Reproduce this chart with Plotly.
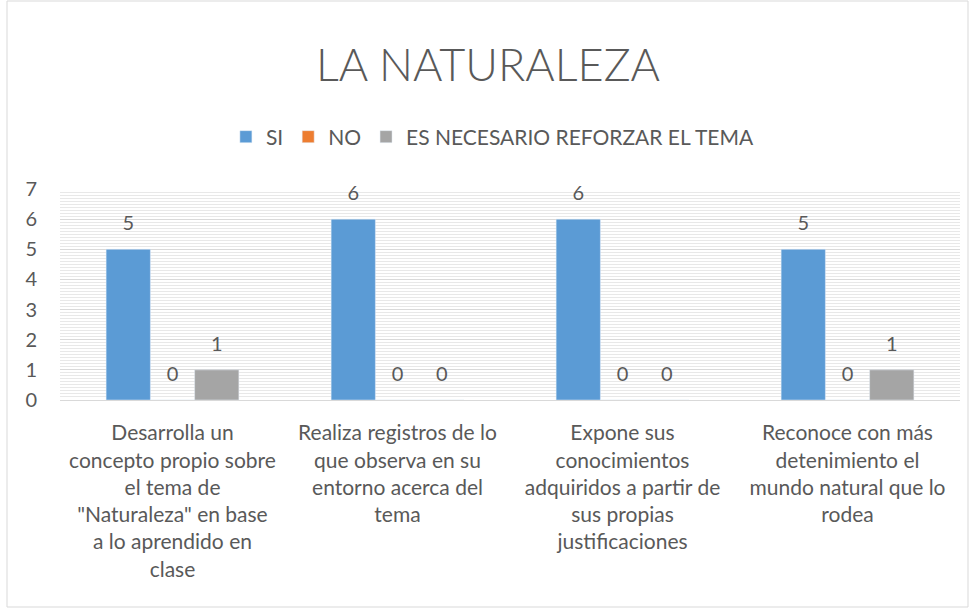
import plotly.graph_objects as go

categories = [
    'Desarrolla un<br>concepto propio sobre<br>el tema de<br>"Naturaleza" en base<br>a lo aprendido en<br>clase',
    'Realiza registros de lo<br>que observa en su<br>entorno acerca del<br>tema',
    'Expone sus<br>conocimientos<br>adquiridos a partir de<br>sus propias<br>justificaciones',
    'Reconoce con más<br>detenimiento el<br>mundo natural que lo<br>rodea',
]
si = [5, 6, 6, 5]
no = [0, 0, 0, 0]
reforzar = [1, 0, 0, 1]

series_names = ["SI", "NO", "ES NECESARIO REFORZAR EL TEMA"]
colors = ["#5B9BD5", "#ED7D31", "#A5A5A5"]
FONT = "Lato, 'Liberation Sans', sans-serif"
TXT = "#595959"
GAP = 0.41

fig = go.Figure()
for i, (name, vals, col) in enumerate(zip(series_names, [si, no, reforzar], colors)):
    fig.add_trace(go.Bar(
        x=categories, y=vals, name=name, marker_color=col,
        offsetgroup=str(i), hoverinfo="skip",
    ))
for i, (name, vals) in enumerate(zip(series_names, [si, no, reforzar])):
    fig.add_trace(go.Scatter(
        x=categories, y=vals, mode="markers+text", text=[str(v) for v in vals],
        textposition="top center", offsetgroup=str(i), showlegend=False,
        marker=dict(size=21, opacity=0), cliponaxis=False, hoverinfo="skip",
        textfont=dict(size=20, color=TXT, family=FONT),
    ))

W, H = 976, 609
ml, mr, mt, mb = 60, 16, 189, 209
pw, ph = W - ml - mr, H - mt - mb

fig.update_layout(
    width=W, height=H,
    margin=dict(l=ml, r=mr, t=mt, b=mb),
    paper_bgcolor="white", plot_bgcolor="white",
    font=dict(family=FONT, color=TXT),
    title=dict(text="LA NATURALEZA", x=0.5, xanchor="center", y=1 - 65 / H, yanchor="middle",
               font=dict(size=45, color=TXT, family=FONT, weight=300)),
    barmode="group", bargap=GAP, bargroupgap=0,
    scattermode="group", scattergap=GAP,
    legend=dict(orientation="h", x=0.481, xanchor="center", y=1 + (189 - 137) / ph, yanchor="middle",
                font=dict(size=21, color=TXT, family=FONT), traceorder="normal",
                itemwidth=30),
    showlegend=True,
    shapes=[dict(type="rect", xref="paper", yref="paper",
                 x0=(7 - ml) / pw, x1=(968 - ml) / pw, y0=(H - 607 - mb) / ph, y1=(H - 1 - mb) / ph,
                 line=dict(color="#D9D9D9", width=1), fillcolor="rgba(0,0,0,0)", layer="below")],
)
fig.update_yaxes(range=[0, 7], dtick=1, showgrid=True, gridcolor="#D9D9D9", gridwidth=1,
                 minor=dict(dtick=0.1, showgrid=True, gridcolor="#E8E8E8", gridwidth=1),
                 zeroline=False, showline=False,
                 tickfont=dict(size=20, color=TXT, family=FONT), ticks="", ticklabelstandoff=22)
fig.update_xaxes(showline=True, linecolor="#D9D9D9", linewidth=1, ticks="",
                 tickfont=dict(size=21, color=TXT, family=FONT), tickangle=0,
                 ticklabelstandoff=14)

fig.write_html("out.html", config={"displayModeBar": False},
               post_script="document.body.style.margin='0';window.dispatchEvent(new Event('resize'));")
